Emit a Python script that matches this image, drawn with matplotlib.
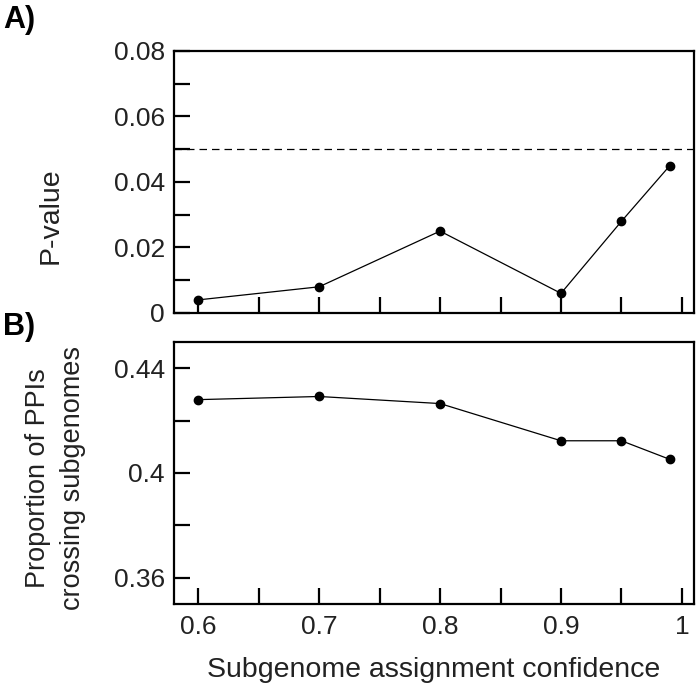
import numpy as np
import matplotlib.pyplot as plt

plt.rcParams['font.family'] = ['Liberation Sans', 'DejaVu Sans']

# subgenome assignment confidence thresholds
confidence = [0.6, 0.7, 0.8, 0.9, 0.95, 0.99]
# panel A: p-values
p_values = [0.004, 0.008, 0.025, 0.006, 0.028, 0.045]
# panel B: proportion of PPIs crossing subgenomes
proportion = [0.428, 0.4292, 0.4265, 0.4123, 0.4123, 0.4052]

x_ticks = [0.6, 0.65, 0.7, 0.75, 0.8, 0.85, 0.9, 0.95, 1.0]
x_labels = ['0.6', '', '0.7', '', '0.8', '', '0.9', '', '1']

fig = plt.figure(figsize=(6.98, 6.87), dpi=100)
ax1 = fig.add_axes([0.2493, 0.5444, 0.745, 0.3814])
ax2 = fig.add_axes([0.2493, 0.1208, 0.745, 0.3814])

txt = '#222222'
for ax in (ax1, ax2):
    for s in ax.spines.values():
        s.set_linewidth(1.6)
    ax.set_xlim(0.58, 1.01)
    ax.set_xticks(x_ticks)
    ax.tick_params(direction='in', length=11.5, width=1.6, labelsize=19,
                   labelcolor=txt, pad=6.5)

# panel A
ax1.plot(confidence, p_values, color='black', lw=0.9, marker='o', ms=6)
ax1.axhline(0.05, color='black', lw=0.9, ls=(0, (6, 4)))
ax1.set_ylim(0, 0.08)
ax1.set_yticks(np.arange(0, 0.081, 0.01))
ax1.set_yticklabels(['0', '', '0.02', '', '0.04', '', '0.06', '', '0.08'])
ax1.set_xticklabels([])
ax1.set_ylabel('P-value', fontsize=20.5, color=txt)
ax1.yaxis.set_label_coords(-0.213, 0.37)

# panel B
ax2.plot(confidence, proportion, color='black', lw=0.9, marker='o', ms=6)
ax2.set_ylim(0.35, 0.45)
ax2.set_yticks([0.36, 0.38, 0.40, 0.42, 0.44])
ax2.set_yticklabels(['0.36', '', '0.4', '', '0.44'])
ax2.set_xticklabels(x_labels)
ax2.tick_params(axis='x', pad=8)
ax2.set_ylabel('Proportion of PPIs\ncrossing subgenomes', fontsize=19.5,
               color=txt, linespacing=1.45)
ax2.yaxis.set_label_coords(-0.169, 0.48)
ax2.set_xlabel('Subgenome assignment confidence', fontsize=20.5, color=txt,
               labelpad=13)

fig.text(0.004, 0.971, 'A)', fontsize=22, fontweight='bold', va='center')
fig.text(0.004, 0.524, 'B)', fontsize=22, fontweight='bold', va='center')

fig.savefig('out.png', dpi=100)
